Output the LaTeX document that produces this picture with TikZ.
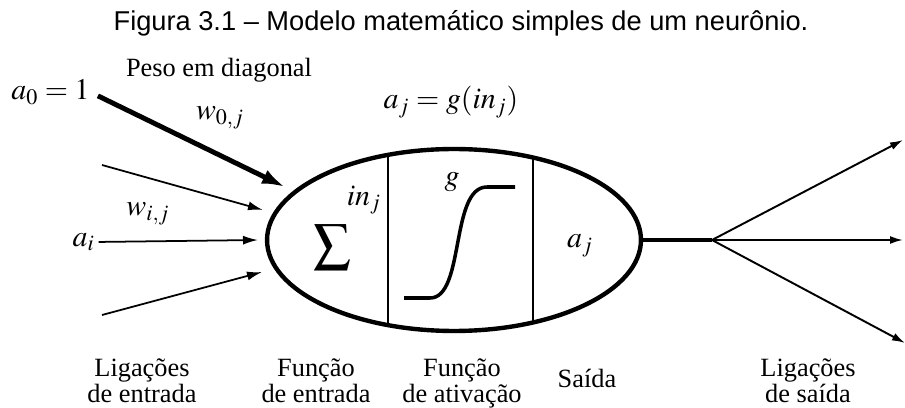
\documentclass[tikz,border=0pt]{standalone}
\usepackage{mathptmx}
\usepackage{fontspec}
\setmainfont{Liberation Serif}
\newfontfamily\titlefont{Liberation Sans}
\usetikzlibrary{arrows.meta,positioning,shapes.geometric}
\tikzset{
  lbl/.style={font=\fontsize{15}{14.7}\selectfont, align=center, inner sep=0pt, text depth=0.25em},
  mth/.style={font=\fontsize{17}{19}\selectfont, inner sep=0pt},
  neuron/.style={ellipse, draw, line width=2.5pt, minimum width=7.48cm, minimum height=3.64cm, inner sep=0pt},
  divider/.style={line width=1.6pt},
  thickin/.style={line width=2.8pt, -{Latex[length=4.6mm, width=3mm]}},
  thinin/.style={line width=1pt, -{Latex[length=3mm, width=1.8mm]}},
  stub/.style={line width=2.8pt},
  outarrow/.style={line width=1.1pt, -{Latex[length=2.6mm, width=1.6mm]}}
}
\begin{document}
\begin{tikzpicture}[x=0.02cm, y=-0.02cm]
  \useasboundingbox (0,0) rectangle (905,408);
  % title
  \node[font=\titlefont\fontsize{15.5}{18}\selectfont] (title) at (461,23) {Figura 3.1 – Modelo matemático simples de um neurônio.};
  % neuron body
  \node[neuron] (neuron) at (454,240) {};
  \begin{scope}
    \clip (454,240) ellipse [x radius=3.74cm, y radius=1.82cm];
    \draw[divider] (388,140) -- (388,340);
    \draw[divider] (533,140) -- (533,340);
  \end{scope}
  \node[mth, font=\fontsize{21}{24}\selectfont] (sum) at (332,247) {$\displaystyle\sum$};
  \node[mth] (inj) at (364,200) {$in_j$};
  \node[mth] (g) at (452,182) {$g$};
  \draw[line width=2pt] (404,298) -- (430,298) .. controls (465,298) and (450,187) .. (487,187) -- (515,187);
  \node[mth] (aj) at (580,246) {$a_j$};
  \node[mth] (act) at (451,102) {$a_j = g(in_j)$};
  % inputs
  \node[mth, anchor=east] (a0) at (90,92) {$a_0 = 1$};
  \node[mth, anchor=east] (ai) at (95,242) {$a_i$};
  \node[lbl] (peso) at (219,70) {Peso em diagonal};
  \node[mth] (w0j) at (220,118) {$w_{0,j}$};
  \node[mth] (wij) at (148,214) {$w_{i,j}$};
  \coordinate (t0) at (285,187);
  \coordinate (s1) at (102,165);
  \coordinate (t1) at (263,210);
  \coordinate (ti) at (258,240);
  \coordinate (s3) at (102,315);
  \coordinate (t3) at (262,272);
  \draw[thickin, shorten <=5pt] (a0.east) -- (t0);
  \draw[thinin] (s1) -- (t1);
  \draw[thinin, shorten <=2pt] (ai.east) -- (ti);
  \draw[thinin] (s3) -- (t3);
  % outputs
  \coordinate (split) at (712,240);
  \coordinate (o1) at (903,140);
  \coordinate (o2) at (903,240);
  \coordinate (o3) at (905,343);
  \draw[stub] (neuron.east) -- (split);
  \draw[outarrow] (split) -- (o1);
  \draw[outarrow] (split) -- (o2);
  \draw[outarrow] (split) -- (o3);
  % bottom labels
  \node[lbl] (lin) at (142,383) {Ligações\\de entrada};
  \node[lbl] (fin) at (316,383) {Função\\de entrada};
  \node[lbl] (fat) at (462,383) {Função\\de ativação};
  \node[lbl] (sai) at (587,381) {Saída};
  \node[lbl] (lout) at (808,383) {Ligações\\de saída};
\end{tikzpicture}
\end{document}
